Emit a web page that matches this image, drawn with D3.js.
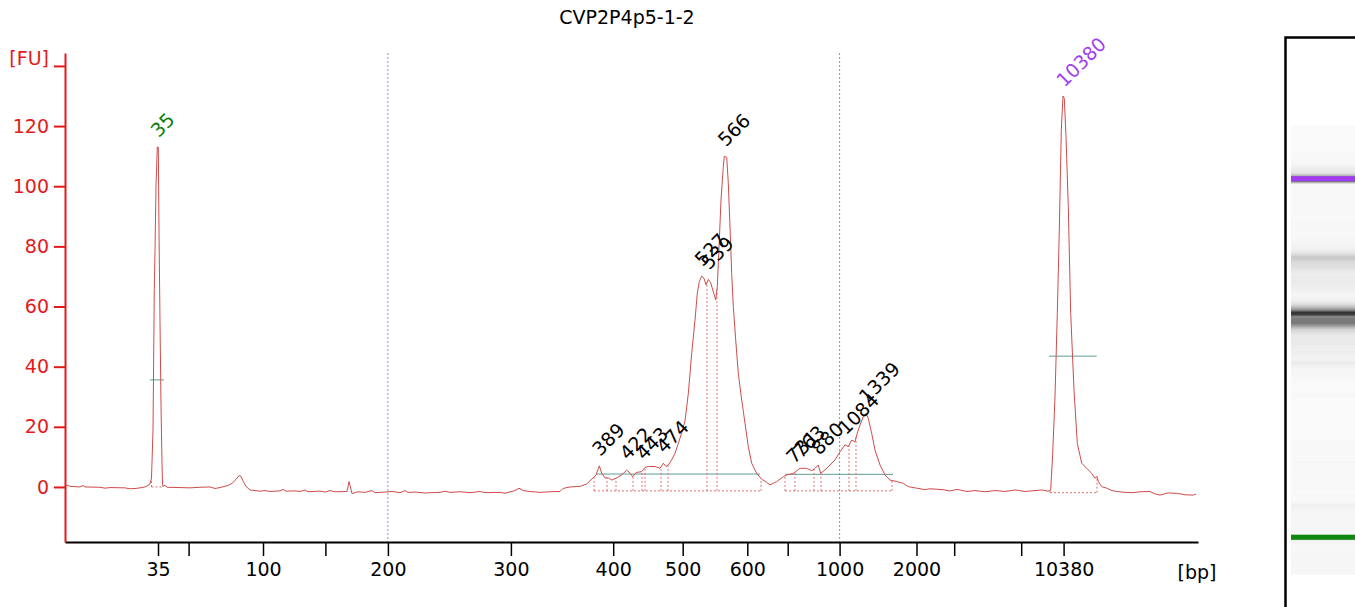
<!DOCTYPE html>
<html>
<head>
<meta charset="utf-8">
<title>CVP2P4p5-1-2</title>
<script src="https://cdnjs.cloudflare.com/ajax/libs/d3/7.8.5/d3.min.js"></script>
<style>
body { margin: 0; background: #fff; }
text { font-family: "DejaVu Sans", sans-serif; }
</style>
</head>
<body>
<svg id="chart" width="1355" height="607"></svg>
<script>
//Sample name
var sampleName = "CVP2P4p5-1-2";

//Ladder: fragment size (bp) vs migration time (s)
var ladderBp = [35, 50, 100, 150, 200, 300, 400, 500, 600, 700, 1000, 2000, 3000, 7000, 10380];
var ladderTime = [49.3, 52.36, 59.8, 66.04, 72.29, 84.59, 94.82, 101.77, 108.23, 112.27, 117.46, 125.15, 128.92, 135.62, 139.86];
var labeledBp = [35, 100, 200, 300, 400, 500, 600, 1000, 2000, 10380];
var fuTicks = [0, 20, 40, 60, 80, 100, 120];

//Electropherogram trace: [time (s), fluorescence (FU)]
var trace = [
  [40.0,0.3],[40.3,0.6],[40.5,0.2],[41.5,0.0],[41.8,0.5],[42.0,0.0],[43.5,-0.1],[44.0,-0.4],[44.5,-0.2],[46.0,-0.3],
  [46.5,-0.6],[47.0,-0.5],[47.5,-0.3],[48.0,0.0],[48.3,0.5],[48.5,1.0],[48.65,3],[48.8,19],[48.93,66],[49.0,79],
  [49.1,100],[49.23,113],[49.33,113],[49.4,85],[49.5,55],[49.6,27],[49.7,8],[49.75,1],[49.8,0.3],[50.0,0.6],
  [50.2,-0.1],[51.5,-0.2],[52.5,-0.3],[53.5,-0.1],[54.5,0],[55.0,-0.5],[55.5,-0.2],[56.3,0.5],[56.7,1.2],[57.1,2.5],
  [57.4,3.8],[57.6,3.6],[57.8,2.0],[58.1,0.2],[58.5,-1.0],[59.5,-1.4],[60.0,-1.2],[60.5,-1.5],[61.5,-1.3],[61.8,-0.8],
  [62.1,-1.4],[63.0,-1.3],[63.5,-1.5],[64.0,-1.0],[64.3,-1.6],[65.5,-1.4],[66.0,-1.7],[66.5,-1.2],[67.0,-1.6],[68.2,-1.5],
  [68.4,1.8],[68.5,0.5],[68.7,-2.2],[69.3,-1.6],[70.0,-1.8],[70.7,-1.2],[71.0,-1.9],[72.0,-1.7],[72.7,-1.5],[73.5,-1.9],
  [74.0,-1.2],[74.3,-1.8],[75.0,-1.7],[76.0,-2.0],[77.5,-1.8],[78.0,-1.4],[78.5,-1.8],[79.5,-1.6],[80.5,-1.9],[81.5,-1.5],
  [82.0,-1.9],[83.5,-1.8],[84.0,-2.1],[85.0,-1.2],[85.4,-0.4],[85.8,-1.2],[86.5,-1.5],[87.5,-1.8],[88.5,-1.6],[89.5,-1.5],
  [89.8,-0.5],[90.5,0],[91.5,0.2],[92.17,1],[92.8,3],[93.1,4],[93.43,7],[93.67,4.6],[94.0,3],[94.33,3],
  [94.67,2.3],[95.17,3],[95.67,4],[96.17,5.6],[96.5,4.6],[96.77,3.4],[97.1,4.8],[97.67,5.1],[98.0,6.5],[98.33,6.8],
  [99.0,6.8],[99.5,6.2],[99.83,7.9],[100.1,6.8],[100.33,7.3],[100.67,9],[101.0,11.2],[101.33,14.5],[101.67,18],[102.0,22],
  [102.33,31],[102.67,44.4],[103.0,55.5],[103.23,64.4],[103.43,68.3],[103.67,70.1],[103.9,69.4],[104.1,67.2],[104.33,69],[104.57,67.9],
  [104.83,64.9],[105.07,62.2],[105.23,66.6],[105.43,82],[105.6,95.4],[105.83,106.5],[105.93,110],[106.17,109.6],[106.33,101],[106.5,86.5],
  [106.67,71],[106.83,60],[107.07,48.9],[107.33,37.8],[107.67,28.9],[108.0,21.2],[108.33,13.4],[108.67,7.9],[109.17,4.5],[109.67,2.6],
  [110.17,1.5],[110.5,0.7],[111.17,1.8],[111.83,3.4],[112.17,4],[112.83,4.5],[113.5,6.2],[114.17,6.2],[114.67,5.4],[115.0,6.2],
  [115.33,7.3],[115.57,4.5],[116.0,5.7],[116.5,7.3],[117.0,9],[117.5,11.7],[118.0,14],[118.33,13.4],[118.67,15.6],[119.0,15],
  [119.17,17.3],[119.5,20.6],[119.83,23.4],[120.1,24.5],[120.33,22.8],[120.67,17.8],[121.0,12.3],[121.5,7.3],[122.0,4],[122.5,2.3],
  [123.17,1.8],[123.83,1.2],[124.33,0.1],[125.17,-0.4],[126.0,-0.9],[126.5,-0.6],[127.8,-0.9],[128.5,-1.3],[129.2,-0.8],[130.2,-1.5],
  [131.0,-1.2],[132.0,-1.6],[133.0,-1.2],[134.0,-1.5],[135.0,-1.0],[136.0,-1.5],[137.0,-1.2],[137.7,-1.0],[138.3,-1.4],[138.57,-1],
  [138.77,11.2],[139.0,30],[139.23,57.7],[139.43,85.4],[139.63,118.7],[139.8,130],[139.93,129.2],[140.1,116.5],[140.33,93.2],[140.57,57.7],
  [140.9,32.2],[141.23,14.5],[141.67,7.9],[142.17,6.2],[142.67,4.5],[143.0,2.9],[143.2,3.5],[143.33,1.8],[143.67,0.1],[144.17,-0.4],
  [144.7,-1.2],[145.17,-1.5],[146.0,-1.8],[146.8,-1.9],[147.5,-1.6],[148.5,-1.5],[149.0,-2.3],[149.5,-2.7],[150.3,-2.0],[151.17,-2.1],
  [152.0,-2.6],[152.83,-2.7],[153.1,-2.4]
];

//Called peaks
var peakBp = [35, 389, 422, 443, 474, 527, 539, 566, 731, 763, 880, 1084, 1339, 10380];
var peakTime = [49.28, 93.43, 96.17, 97.8, 99.83, 103.67, 104.33, 106.0, 112.83, 113.5, 115.33, 118.0, 120.1, 139.86];

//Markers (lower / upper)
var markerBp = [35, 10380];
var markerTime = [49.3, 139.86];

//Smear region borders (bp)
var regionBp = [200, 1000];

//Peak windows: start/end times of each integration group and its base level
var windowTimes = [
  [48.65, 49.8],
  [92.9, 94.2, 95.1, 96.8, 97.7, 98.0, 99.6, 100.3, 104.2, 105.2, 109.6],
  [112.0, 113.0, 114.9, 115.6, 118.4, 119.1, 122.7],
  [138.5, 143.2]
];
var windowBaseFU = [0, -1.3, -1.3, -1.9];

//Peak width lines (FU level, from, to)
var widthLineFU = [35.6, 4.3, 4.2, 43.5];
var widthLineTimes = [[48.5, 49.9], [93.1, 109.5], [112.0, 122.8], [138.4, 143.17]];

//Scales
var x = d3.scaleLinear().domain([40, 153.3]).range([65, 1198]);
var y = d3.scaleLinear().domain([-18.3, 144.3]).range([542, 53]);
var gelY = d3.scaleLinear().domain([40, 153.3]).range([574, 125.5]);
var timeOfBp = d3.scaleLog().domain(ladderBp).range(ladderTime);

function fuAt(t) {
  var i = d3.bisector(function(d){ return d[0]; }).left(trace, t);
  if (i <= 0) return trace[0][1];
  if (i >= trace.length) return trace[trace.length - 1][1];
  var a = trace[i - 1], b = trace[i];
  return a[1] + (b[1] - a[1]) * (t - a[0]) / (b[0] - a[0]);
}

var svg = d3.select("#chart");

//Title
svg.append("text")
  .attr("x", 627).attr("y", 24)
  .attr("text-anchor", "middle")
  .style("font-size", "19px")
  .text(sampleName);

//Region border gridlines
svg.selectAll(".region").data(regionBp).enter().append("line")
  .attr("class", "region")
  .attr("x1", function(d){ return x(timeOfBp(d)); })
  .attr("x2", function(d){ return x(timeOfBp(d)); })
  .attr("y1", y(144.3)).attr("y2", y(-18.3))
  .attr("stroke", "#8c8cd0").attr("stroke-width", 1)
  .attr("stroke-dasharray", "2,2");

//Peak width lines
svg.selectAll(".wline").data(widthLineFU).enter().append("line")
  .attr("class", "wline")
  .attr("x1", function(d, i){ return x(widthLineTimes[i][0]); })
  .attr("x2", function(d, i){ return x(widthLineTimes[i][1]); })
  .attr("y1", function(d){ return y(d); })
  .attr("y2", function(d){ return y(d); })
  .attr("stroke", "#5b9e95").attr("stroke-width", 1);

//Peak windows (dotted)
windowTimes.forEach(function(times, gi) {
  var base = y(windowBaseFU[gi]);
  svg.append("line")
    .attr("x1", x(times[0])).attr("x2", x(times[times.length - 1]))
    .attr("y1", base).attr("y2", base)
    .attr("stroke", "#e07070").attr("stroke-width", 1)
    .attr("stroke-dasharray", "2,2");
  svg.selectAll(null).data(times).enter().append("line")
    .attr("x1", function(d){ return x(d); })
    .attr("x2", function(d){ return x(d); })
    .attr("y1", base)
    .attr("y2", function(d){ return y(fuAt(d)); })
    .attr("stroke", "#e07070").attr("stroke-width", 1)
    .attr("stroke-dasharray", "2,2");
});

//Trace
var line = d3.line()
  .x(function(d){ return x(d[0]); })
  .y(function(d){ return y(d[1]); });

svg.append("path")
  .datum(trace)
  .attr("d", line)
  .attr("fill", "none")
  .attr("stroke", "#d04c4c")
  .attr("stroke-width", 1);

//Peak labels
svg.selectAll(".plabel").data(peakBp).enter().append("text")
  .attr("class", "plabel")
  .attr("transform", function(d, i){
    return "translate(" + (x(peakTime[i]) + 1) + "," + (y(fuAt(peakTime[i])) - 9) + ") rotate(-45)";
  })
  .style("font-size", "19px")
  .attr("fill", function(d){
    if (d === markerBp[0]) return "#0a7d0a";
    if (d === markerBp[1]) return "#a040f0";
    return "#000";
  })
  .text(function(d){ return d; });

//X axis
var xAxis = d3.axisBottom(x)
  .tickValues(ladderTime)
  .tickSize(14)
  .tickSizeOuter(0)
  .tickPadding(7)
  .tickFormat(function(d, i){
    return labeledBp.indexOf(ladderBp[i]) >= 0 ? ladderBp[i] : "";
  });

var gx = svg.append("g")
  .attr("transform", "translate(0," + y(-18.3) + ")")
  .call(xAxis);
gx.select(".domain").attr("stroke", "#000").attr("stroke-width", 2);
gx.selectAll(".tick line").attr("stroke", "#000").attr("stroke-width", 1.5);
gx.selectAll(".tick text").attr("fill", "#000").style("font-size", "19px")
  .style("font-family", "DejaVu Sans");

svg.append("text")
  .attr("x", 1197).attr("y", 579)
  .attr("text-anchor", "middle")
  .style("font-size", "19px")
  .text("[bp]");

//Y axis
var yAxis = d3.axisLeft(y)
  .tickValues(fuTicks.concat([140]))
  .tickSize(11)
  .tickSizeOuter(0)
  .tickPadding(5)
  .tickFormat(function(d){ return d === 140 ? "[FU]" : d; });

var gy = svg.append("g")
  .attr("transform", "translate(" + x(40) + ",0)")
  .call(yAxis);
gy.select(".domain").attr("stroke", "#e41a1a").attr("stroke-width", 2);
gy.selectAll(".tick line").attr("stroke", "#e41a1a").attr("stroke-width", 2);
gy.selectAll(".tick text").attr("fill", "#e41a1a").style("font-size", "19px")
  .style("font-family", "DejaVu Sans");
gy.selectAll(".tick text").filter(function(d){ return d === 140; }).attr("dy", "-0.1em");

//Gel image lane
var gel = svg.append("g");
gel.selectAll("rect").data(trace).enter().append("rect")
  .attr("x", 1291)
  .attr("width", 64)
  .attr("y", function(d, i){
    var t1 = i < trace.length - 1 ? (d[0] + trace[i + 1][0]) / 2 : 153.3;
    return gelY(t1);
  })
  .attr("height", function(d, i){
    var t0 = i > 0 ? (d[0] + trace[i - 1][0]) / 2 : 40;
    var t1 = i < trace.length - 1 ? (d[0] + trace[i + 1][0]) / 2 : 153.3;
    return gelY(t0) - gelY(t1) + 0.6;
  })
  .attr("fill", function(d){
    var g = Math.round(Math.max(40, Math.min(250, 246 - 1.8 * d[1])));
    return d3.rgb(g, g, g);
  });

gel.selectAll(".band").data(markerTime).enter().append("rect")
  .attr("class", "band")
  .attr("x", 1291).attr("width", 64)
  .attr("y", function(d){ return gelY(d) - 2.5; })
  .attr("height", 5)
  .attr("fill", function(d, i){ return i === 0 ? "#0e880e" : "#a23cf2"; });

svg.append("path")
  .attr("d", "M1285.5,607V37.5H1355")
  .attr("fill", "none")
  .attr("stroke", "#000")
  .attr("stroke-width", 2.5);
</script>
</body>
</html>
